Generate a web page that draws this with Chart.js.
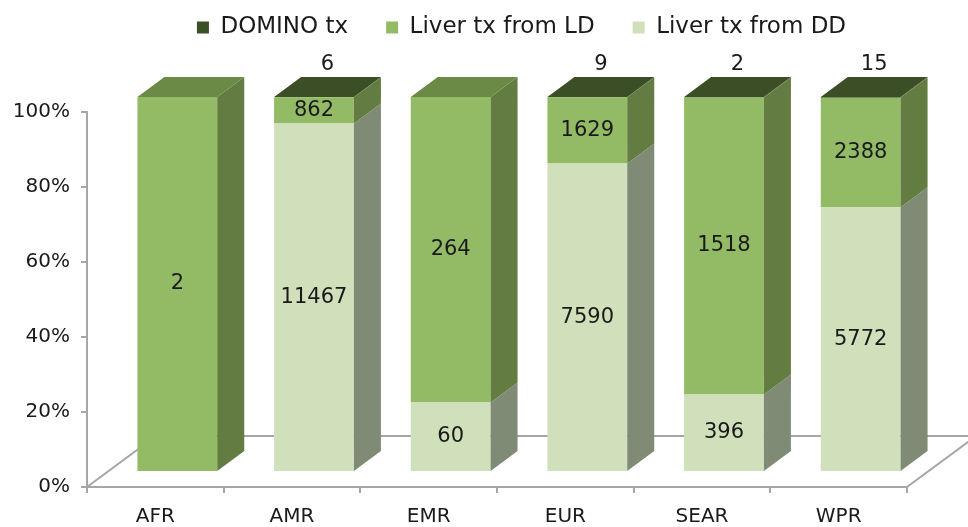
<!DOCTYPE html>
<html>
<head>
<meta charset="utf-8">
<script src="https://cdn.jsdelivr.net/npm/chart.js@4/dist/chart.umd.min.js"></script>
<style>
html,body{margin:0;padding:0;background:#fff;}
#wrap{width:968px;height:527px;}
</style>
</head>
<body>
<div id="wrap"><canvas id="c" width="968" height="527"></canvas></div>
<script>
const categories = ['AFR','AMR','EMR','EUR','SEAR','WPR'];
const dominoTx = [0, 6, 0, 9, 2, 15];
const liverLD = [2, 862, 264, 1629, 1518, 2388];
const liverDD = [0, 11467, 60, 7590, 396, 5772];
const seriesNames = ['Liver tx from DD','Liver tx from LD','DOMINO tx'];
const yTicks = [0,20,40,60,80,100];

const totals = categories.map((_, i) => dominoTx[i] + liverLD[i] + liverDD[i]);
const pct = arr => arr.map((v, i) => totals[i] ? v / totals[i] * 100 : 0);

const FONT = 'DejaVu Sans';
const colors = {
  dd:  {front:'#cfe0bb', side:'#808b76', top:'#a9b99a'},
  ld:  {front:'#93bb66', side:'#627c41', top:'#6b8a46'},
  dom: {front:'#3c4f27', side:'#4f6632', top:'#3b4e25'}
};
const keys = ['dd','ld','dom'];
// 3D geometry (pixels)
const DEPTH_X = 27, DEPTH_Y = -20;   // bar depth
const SHIFT_X = 22, SHIFT_Y = -15;   // bar position inside floor
const FLOOR_X = 69, FLOOR_Y = -51;   // floor depth
const LEGEND_DX = 68, LEGEND_DY = -63;

const threeD = {
  id: 'threeD',
  afterLayout(chart) {
    const lg = chart.legend;
    if (lg) {
      lg.left += LEGEND_DX; lg.right += LEGEND_DX;
      lg.top += LEGEND_DY; lg.bottom += LEGEND_DY;
    }
  },
  beforeDatasetsDraw(chart) {
    const ctx = chart.ctx, a = chart.chartArea;
    ctx.save();
    ctx.strokeStyle = '#a6a6a6';
    ctx.lineWidth = 2;
    ctx.beginPath();
    ctx.moveTo(a.left, a.bottom);
    ctx.lineTo(a.left + FLOOR_X, a.bottom + FLOOR_Y);
    ctx.lineTo(a.right + FLOOR_X, a.bottom + FLOOR_Y);
    ctx.lineTo(a.right, a.bottom);
    ctx.stroke();
    ctx.restore();
    ctx.save();
    ctx.translate(SHIFT_X, SHIFT_Y);
  },
  afterDatasetsDraw(chart) {
    const ctx = chart.ctx;
    const n = categories.length;
    for (let i = 0; i < n; i++) {
      let topEl = null, topKey = null;
      chart.data.datasets.forEach((ds, di) => {
        const el = chart.getDatasetMeta(di).data[i];
        if (!ds.raw[i]) return;
        const x2 = el.x + el.width / 2;
        const yt = Math.min(el.y, el.base), yb = Math.max(el.y, el.base);
        ctx.fillStyle = colors[keys[di]].side;
        ctx.beginPath();
        ctx.moveTo(x2, yb);
        ctx.lineTo(x2, yt);
        ctx.lineTo(x2 + DEPTH_X, yt + DEPTH_Y);
        ctx.lineTo(x2 + DEPTH_X, yb + DEPTH_Y);
        ctx.closePath();
        ctx.fill();
        topEl = el; topKey = keys[di];
      });
      if (topEl) {
        const x1 = topEl.x - topEl.width / 2, x2 = topEl.x + topEl.width / 2;
        const yt = Math.min(topEl.y, topEl.base);
        ctx.fillStyle = colors[topKey].top;
        ctx.beginPath();
        ctx.moveTo(x1, yt);
        ctx.lineTo(x2, yt);
        ctx.lineTo(x2 + DEPTH_X, yt + DEPTH_Y);
        ctx.lineTo(x1 + DEPTH_X, yt + DEPTH_Y);
        ctx.closePath();
        ctx.fill();
      }
    }
    ctx.fillStyle = '#1a1a1a';
    ctx.font = '21px "' + FONT + '"';
    ctx.textAlign = 'center';
    ctx.textBaseline = 'middle';
    [0,1].forEach(di => {
      chart.getDatasetMeta(di).data.forEach((el, i) => {
        const raw = chart.data.datasets[di].raw[i];
        if (!raw) return;
        ctx.fillText(String(raw), el.x, (el.y + el.base) / 2);
      });
    });
    chart.getDatasetMeta(2).data.forEach((el, i) => {
      const raw = chart.data.datasets[2].raw[i];
      if (!raw) return;
      ctx.fillText(String(raw), el.x + DEPTH_X / 2, Math.min(el.y, el.base) + DEPTH_Y - 12);
    });
    ctx.restore();
  }
};

new Chart(document.getElementById('c'), {
  type: 'bar',
  data: {
    labels: categories,
    datasets: [
      {label: seriesNames[0], data: pct(liverDD), raw: liverDD, backgroundColor: colors.dd.front},
      {label: seriesNames[1], data: pct(liverLD), raw: liverLD, backgroundColor: colors.ld.front},
      {label: seriesNames[2], data: pct(dominoTx), raw: dominoTx, backgroundColor: colors.dom.front}
    ]
  },
  options: {
    responsive: false,
    animation: false,
    devicePixelRatio: 1,
    layout: {padding: {left: 0, right: 61, top: 41, bottom: 0}},
    datasets: {bar: {categoryPercentage: 1, barPercentage: 0.584, borderWidth: 0, clip: false}},
    plugins: {
      legend: {
        position: 'top',
        reverse: true,
        labels: {
          font: {family: FONT, size: 23},
          color: '#1a1a1a',
          boxWidth: 12, boxHeight: 12,
          padding: 38
        }
      },
      tooltip: {enabled: false}
    },
    scales: {
      x: {
        stacked: true,
        grid: {drawOnChartArea: false, drawTicks: true, tickLength: 6, color: '#a6a6a6', lineWidth: 2, offset: true},
        border: {color: '#a6a6a6', width: 2},
        ticks: {font: {family: FONT, size: 20}, color: '#1a1a1a', padding: 12},
        afterFit(s) { s.height = 40; }
      },
      y: {
        stacked: true,
        min: 0, max: 100,
        afterBuildTicks(s) { s.ticks = yTicks.map(v => ({value: v})); },
        grid: {drawOnChartArea: false, drawTicks: true, tickLength: 6, color: '#a6a6a6', lineWidth: 2},
        border: {color: '#a6a6a6', width: 2},
        ticks: {font: {family: FONT, size: 20}, color: '#1a1a1a', padding: 11, callback: v => v + '%'},
        afterFit(s) { s.width = 87; }
      }
    }
  },
  plugins: [threeD]
});
</script>
</body>
</html>
